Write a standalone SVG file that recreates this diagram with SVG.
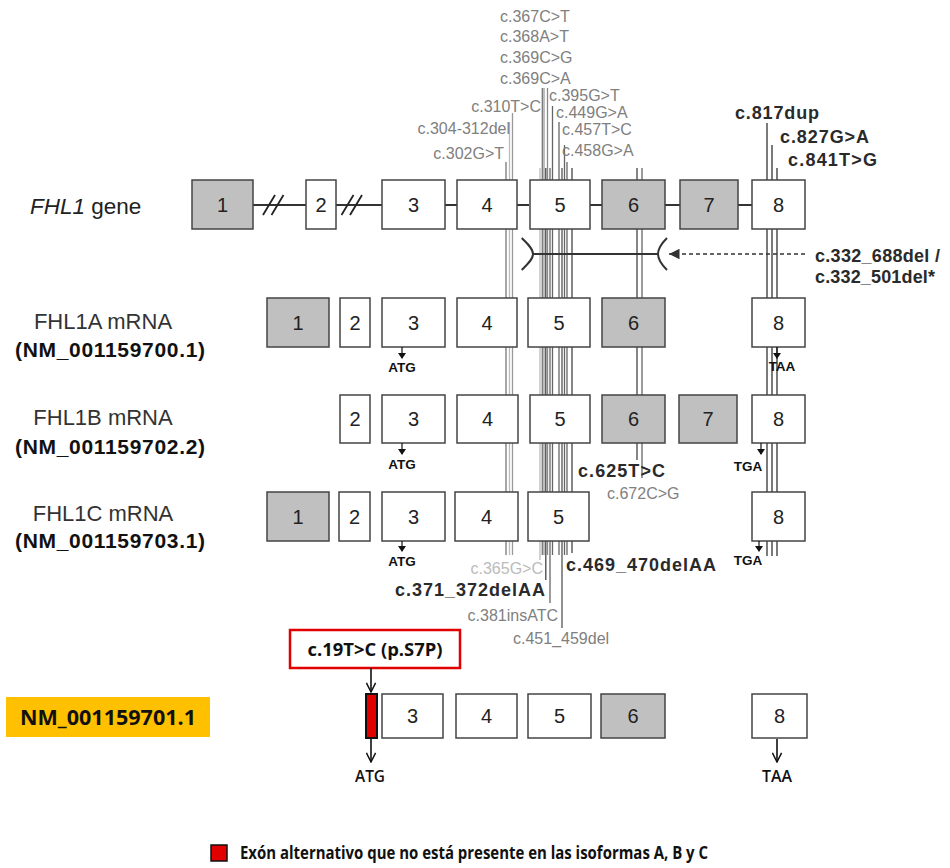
<svg xmlns="http://www.w3.org/2000/svg" width="950" height="868" viewBox="0 0 950 868">
<style>
.box{fill:#fff;stroke:#444;stroke-width:1.5}
.gbox{fill:#c0c0c0;stroke:#444;stroke-width:1.5}
.num{font-family:"Liberation Sans",Arial,sans-serif;font-size:20px;fill:#222;text-anchor:middle}
.mg{font-family:"Liberation Sans",Arial,sans-serif;font-size:16px;fill:#808080}
.ml{font-family:"Liberation Sans",Arial,sans-serif;font-size:16px;fill:#bbb}
.mb{font-family:"Liberation Sans",Arial,sans-serif;font-size:18px;font-weight:bold;fill:#2a2a2a}
.lab{font-family:"Liberation Sans",Arial,sans-serif;font-size:22px;fill:#333;text-anchor:middle}
.nm{font-family:"Liberation Sans",Arial,sans-serif;font-size:21px;font-weight:bold;fill:#111;text-anchor:middle}
.cod{font-family:"Liberation Sans",Arial,sans-serif;font-size:13.5px;font-weight:bold;fill:#111;text-anchor:middle}
.cal{font-family:"Open Sans","Liberation Sans",Arial,sans-serif;font-weight:bold;fill:#111;text-anchor:middle}
.vl{stroke-width:1.3;fill:none}
.link{stroke:#333;stroke-width:2;fill:none}
.oa{stroke:#111;stroke-width:1.6;fill:none}
</style>
<defs>
<marker id="tri" viewBox="0 0 10 10" refX="10" refY="5" markerWidth="7" markerHeight="7" orient="auto"><path d="M0,0 L10,5 L0,10 z" fill="#333"/></marker>
<marker id="open" viewBox="0 0 12 12" refX="11" refY="6" markerWidth="11" markerHeight="11" markerUnits="userSpaceOnUse" orient="auto"><path d="M1,1 L11,6 L1,11" fill="none" stroke="#111" stroke-width="1.6"/></marker>
</defs>

<g id="mutation-lines">
<line class="vl" x1="506" y1="162" x2="506" y2="555" stroke="#777"/>
<line class="vl" x1="509.5" y1="122" x2="509.5" y2="555" stroke="#bbb"/>
<line class="vl" x1="512.5" y1="113" x2="512.5" y2="555" stroke="#999"/>
<line class="vl" x1="540" y1="168" x2="540" y2="560" stroke="#bbb"/>
<line class="vl" x1="542.3" y1="88" x2="542.3" y2="555" stroke="#777"/>
<line class="vl" x1="544" y1="88" x2="544" y2="555" stroke="#999"/>
<line class="vl" x1="545.8" y1="168" x2="545.8" y2="580" stroke="#444"/>
<line class="vl" x1="547.5" y1="88" x2="547.5" y2="555" stroke="#888"/>
<line class="vl" x1="550" y1="168" x2="550" y2="603" stroke="#666"/>
<line class="vl" x1="552.5" y1="106" x2="552.5" y2="555" stroke="#666"/>
<line class="vl" x1="559" y1="122" x2="559" y2="555" stroke="#666"/>
<line class="vl" x1="562" y1="168" x2="562" y2="628" stroke="#555"/>
<line class="vl" x1="564.5" y1="145" x2="564.5" y2="555" stroke="#666"/>
<line class="vl" x1="567" y1="162" x2="567" y2="555" stroke="#666"/>
<line class="vl" x1="572" y1="168" x2="572" y2="553" stroke="#444"/>
<line class="vl" x1="637" y1="168" x2="637" y2="460" stroke="#444"/>
<line class="vl" x1="642" y1="168" x2="642" y2="478" stroke="#666"/>
<line class="vl" x1="767" y1="123" x2="767" y2="556" stroke="#333"/>
<line class="vl" x1="772" y1="145" x2="772" y2="556" stroke="#333"/>
<line class="vl" x1="777" y1="168" x2="777" y2="556" stroke="#333"/>
</g>

<g id="mutation-labels">
<text class="mg" x="500" y="22">c.367C&gt;T</text>
<text class="mg" x="500" y="42">c.368A&gt;T</text>
<text class="mg" x="500" y="63">c.369C&gt;G</text>
<text class="mg" x="500" y="84">c.369C&gt;A</text>
<text class="mg" x="549" y="101">c.395G&gt;T</text>
<text class="mg" x="541" y="112" text-anchor="end">c.310T&gt;C</text>
<text class="mg" x="556" y="118">c.449G&gt;A</text>
<text class="mg" x="510" y="134" text-anchor="end">c.304-312del</text>
<text class="mg" x="562" y="135">c.457T&gt;C</text>
<text class="mg" x="504" y="159" text-anchor="end">c.302G&gt;T</text>
<text class="mg" x="562" y="156">c.458G&gt;A</text>
<text class="mb" x="735" y="119" textLength="84">c.817dup</text>
<text class="mb" x="780" y="143" textLength="89">c.827G&gt;A</text>
<text class="mb" x="788" y="166" textLength="89">c.841T&gt;G</text>
<text class="mb" x="815" y="262" textLength="125">c.332_688del /</text>
<text class="mb" x="815" y="283" textLength="120">c.332_501del*</text>
<text class="mb" x="578" y="477" textLength="87">c.625T&gt;C</text>
<text class="mg" x="607" y="499">c.672C&gt;G</text>
<text class="ml" x="543" y="574" text-anchor="end">c.365G&gt;C</text>
<text class="mb" x="395" y="596" textLength="150">c.371_372delAA</text>
<text class="mg" x="558" y="621" text-anchor="end">c.381insATC</text>
<text class="mg" x="513" y="644">c.451_459del</text>
<text class="mb" x="566" y="571" textLength="150">c.469_470delAA</text>
</g>

<g id="deletion-bracket">
<line class="link" x1="533" y1="254" x2="658" y2="254"/>
<path class="link" d="M521.7,238 C528,244 533,249 533,254 C533,259 528,264 521.7,270"/>
<path class="link" d="M667,238 C661,244 658,249 658,254 C658,259 661,264 667,270"/>
<line x1="805" y1="254" x2="669" y2="254" stroke="#333" stroke-width="1.5" stroke-dasharray="4,3" marker-end="url(#tri)"/>
</g>

<g id="gene">
<text x="30" y="214" font-family="Liberation Sans, Arial, sans-serif" font-size="22.5" fill="#222"><tspan font-style="italic">FHL1</tspan> gene</text>
<line class="link" x1="253" y1="205" x2="306" y2="205"/>
<line class="link" x1="336" y1="205" x2="382" y2="205"/>
<line class="link" x1="445" y1="205" x2="457" y2="205"/>
<line class="link" x1="517" y1="205" x2="529" y2="205"/>
<line class="link" x1="590" y1="205" x2="602" y2="205"/>
<line class="link" x1="665" y1="205" x2="680" y2="205"/>
<line class="link" x1="738" y1="205" x2="752" y2="205"/>
<path d="M263,215 L275,195 M271.5,215 L283.5,195 M341.5,215 L353.5,195 M350,215 L362,195" stroke="#222" stroke-width="1.8" fill="none"/>
<rect class="gbox" x="192" y="180" width="61" height="49"/><text class="num" x="222.5" y="212">1</text>
<rect class="box" x="306" y="180" width="30" height="49"/><text class="num" x="321" y="212">2</text>
<rect class="box" x="382" y="180" width="63" height="49"/><text class="num" x="413.5" y="212">3</text>
<rect class="box" x="457" y="180" width="60" height="49"/><text class="num" x="487" y="212">4</text>
<rect class="box" x="530" y="180" width="60" height="49"/><text class="num" x="560" y="212">5</text>
<rect class="gbox" x="602" y="180" width="63" height="49"/><text class="num" x="633.5" y="212">6</text>
<rect class="gbox" x="680" y="180" width="58" height="49"/><text class="num" x="709" y="212">7</text>
<rect class="box" x="752" y="180" width="53" height="49"/><text class="num" x="778.5" y="212">8</text>
</g>

<g id="fhl1a">
<text class="lab" x="103" y="329">FHL1A mRNA</text>
<text class="nm" x="110" y="357" textLength="190">(NM_001159700.1)</text>
<rect class="gbox" x="267" y="298" width="62" height="49"/><text class="num" x="298" y="330">1</text>
<rect class="box" x="340" y="298" width="30" height="49"/><text class="num" x="355" y="330">2</text>
<rect class="box" x="382" y="298" width="63" height="49"/><text class="num" x="413.5" y="330">3</text>
<rect class="box" x="457" y="298" width="60" height="49"/><text class="num" x="487" y="330">4</text>
<rect class="box" x="528" y="298" width="62" height="49"/><text class="num" x="559" y="330">5</text>
<rect class="gbox" x="602" y="298" width="63" height="49"/><text class="num" x="633.5" y="330">6</text>
<rect class="box" x="752" y="298" width="53" height="49"/><text class="num" x="778.5" y="330">8</text>
<line x1="402" y1="347" x2="402" y2="358" stroke="#111" stroke-width="1.2"/><path d="M398,353 L406,353 L402,359 z" fill="#111"/>
<text class="cod" x="402" y="372">ATG</text>
<line x1="777" y1="347" x2="777" y2="358" stroke="#111" stroke-width="1.2"/><path d="M773,353 L781,353 L777,359 z" fill="#111"/>
<text class="cod" x="782" y="371" text-anchor="start">TAA</text>
</g>

<g id="fhl1b">
<text class="lab" x="103" y="425">FHL1B mRNA</text>
<text class="nm" x="110" y="454" textLength="190">(NM_001159702.2)</text>
<rect class="box" x="340" y="395" width="30" height="48"/><text class="num" x="355" y="426">2</text>
<rect class="box" x="382" y="395" width="63" height="48"/><text class="num" x="413.5" y="426">3</text>
<rect class="box" x="457" y="395" width="61" height="48"/><text class="num" x="487.5" y="426">4</text>
<rect class="box" x="530" y="395" width="60" height="48"/><text class="num" x="560" y="426">5</text>
<rect class="gbox" x="602" y="395" width="63" height="48"/><text class="num" x="633.5" y="426">6</text>
<rect class="gbox" x="679" y="395" width="58" height="48"/><text class="num" x="708" y="426">7</text>
<rect class="box" x="752" y="395" width="53" height="48"/><text class="num" x="778.5" y="426">8</text>
<line x1="402" y1="443" x2="402" y2="454" stroke="#111" stroke-width="1.2"/><path d="M398,449 L406,449 L402,455 z" fill="#111"/>
<text class="cod" x="402" y="469">ATG</text>
<line x1="761" y1="443" x2="761" y2="454" stroke="#111" stroke-width="1.2"/><path d="M757,449 L765,449 L761,455 z" fill="#111"/>
<text class="cod" x="748" y="471">TGA</text>
</g>

<g id="fhl1c">
<text class="lab" x="103" y="521">FHL1C mRNA</text>
<text class="nm" x="110" y="548" textLength="190">(NM_001159703.1)</text>
<rect class="gbox" x="267" y="492" width="62" height="49"/><text class="num" x="298" y="524">1</text>
<rect class="box" x="339" y="492" width="31" height="49"/><text class="num" x="354.5" y="524">2</text>
<rect class="box" x="382" y="492" width="63" height="49"/><text class="num" x="413.5" y="524">3</text>
<rect class="box" x="455" y="492" width="63" height="49"/><text class="num" x="486.5" y="524">4</text>
<rect class="box" x="528" y="492" width="61" height="49"/><text class="num" x="558.5" y="524">5</text>
<rect class="box" x="752" y="492" width="53" height="49"/><text class="num" x="778.5" y="524">8</text>
<line x1="402" y1="541" x2="402" y2="551" stroke="#111" stroke-width="1.2"/><path d="M398,546 L406,546 L402,552 z" fill="#111"/>
<text class="cod" x="402" y="566">ATG</text>
<line x1="759" y1="541" x2="759" y2="551" stroke="#111" stroke-width="1.2"/><path d="M755,546 L763,546 L759,552 z" fill="#111"/>
<text class="cod" x="748" y="565">TGA</text>
</g>

<g id="nm-001159701">
<rect x="6" y="697" width="204" height="40" fill="#ffc000"/>
<text class="cal" x="108" y="725" font-size="21" textLength="176" lengthAdjust="spacingAndGlyphs">NM_001159701.1</text>
<rect x="290" y="630" width="170" height="38" fill="#fff" stroke="#e00000" stroke-width="2.5"/>
<text class="cal" x="375" y="656" font-size="17" textLength="135" lengthAdjust="spacingAndGlyphs">c.19T&gt;C (p.S7P)</text>
<line class="oa" x1="371" y1="668" x2="371" y2="692" marker-end="url(#open)"/>
<rect x="366" y="694" width="11" height="44" fill="#e00000" stroke="#111" stroke-width="2"/>
<line class="oa" x1="371" y1="739" x2="371" y2="762" marker-end="url(#open)"/>
<text x="370" y="782" font-family="Open Sans, Liberation Sans, Arial, sans-serif" font-size="16" font-weight="600" fill="#111" text-anchor="middle" textLength="30" lengthAdjust="spacingAndGlyphs">ATG</text>
<rect class="box" x="382" y="694" width="61" height="44"/><text class="num" x="412.5" y="723">3</text>
<rect class="box" x="456" y="694" width="61" height="44"/><text class="num" x="486.5" y="723">4</text>
<rect class="box" x="528" y="694" width="63" height="44"/><text class="num" x="559.5" y="723">5</text>
<rect class="gbox" x="601" y="694" width="64" height="44"/><text class="num" x="633" y="723">6</text>
<rect class="box" x="752" y="694" width="55" height="44"/><text class="num" x="779.5" y="723">8</text>
<line class="oa" x1="777" y1="739" x2="777" y2="762" marker-end="url(#open)"/>
<text x="777" y="782" font-family="Open Sans, Liberation Sans, Arial, sans-serif" font-size="16" font-weight="600" fill="#111" text-anchor="middle" textLength="30" lengthAdjust="spacingAndGlyphs">TAA</text>
</g>

<g id="legend">
<rect x="211" y="845" width="16" height="16" fill="#e00000" stroke="#111" stroke-width="1.5"/>
<text x="240" y="859" font-family="Open Sans, Liberation Sans, Arial, sans-serif" font-size="18" font-weight="bold" fill="#111" textLength="468" lengthAdjust="spacingAndGlyphs">Exón alternativo que no está presente en las isoformas A, B y C</text>
</g>
</svg>
